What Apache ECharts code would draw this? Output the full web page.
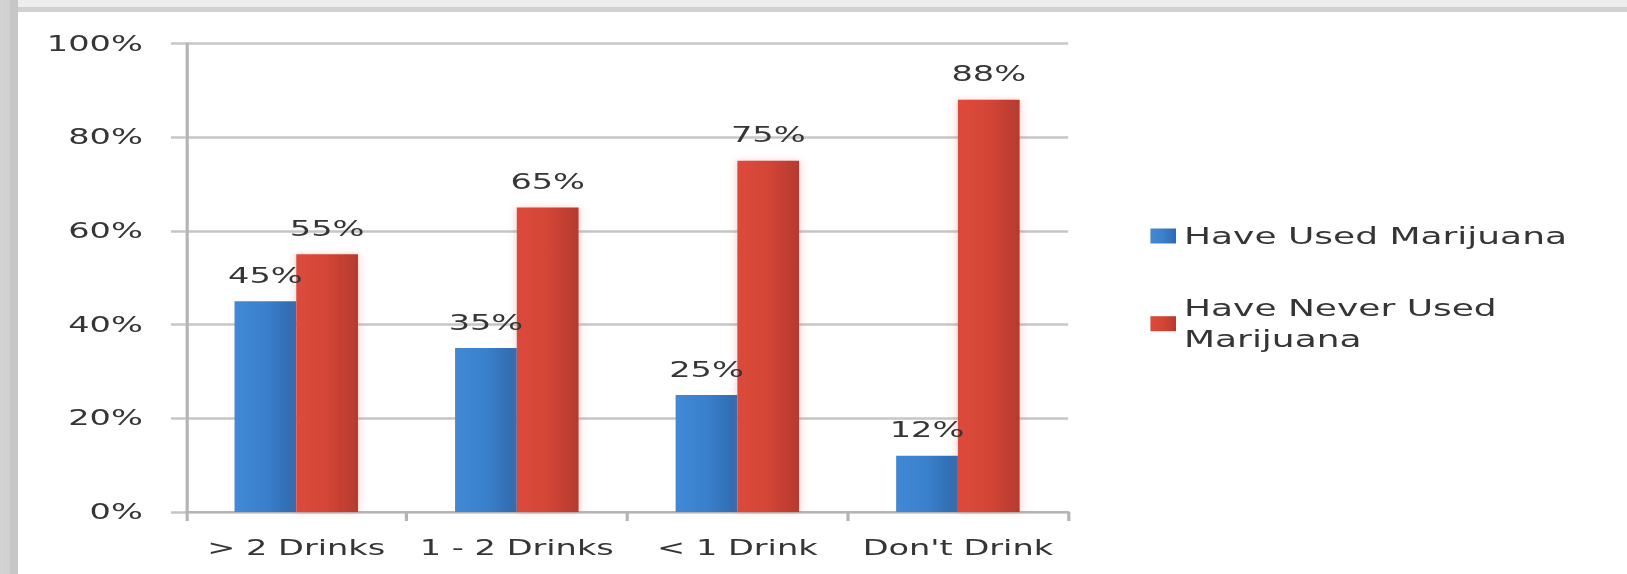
<!DOCTYPE html>
<html><head><meta charset="utf-8">
<script src="https://cdn.jsdelivr.net/npm/echarts@6/dist/echarts.min.js"></script>
<style>
html,body{margin:0;padding:0;width:1627px;height:574px;overflow:hidden;background:#e8e8e8;}
#topstrip{position:absolute;left:0;top:0;width:1627px;height:12px;background:linear-gradient(#eeeeee 0,#eeeeee 7px,#d0d0d0 7px,#d0d0d0 12px);}
#leftstrip{position:absolute;left:0;top:0;width:18px;height:574px;background:linear-gradient(90deg,#d4d4d4 0,#d0d0d0 10px,#c6c6c6 10px,#c6c6c6 18px);}
#panel{position:absolute;left:18px;top:12px;right:0;bottom:0;background:#ffffff;}
#chart{position:absolute;left:0;top:0;width:1016.875px;height:574px;transform:scaleX(1.6);transform-origin:0 0;}
</style>
</head><body>
<div id="topstrip"></div><div id="leftstrip"></div><div id="panel"></div>
<div id="chart"></div>
<script>
const categories = ['> 2 Drinks', '1 - 2 Drinks', '< 1 Drink', "Don't Drink"];
const usedValues = [45, 35, 25, 12];
const neverValues = [55, 65, 75, 88];
const seriesNames = ['Have Used Marijuana', 'Have Never Used Marijuana'];
const yMin = 0, yMax = 100, yStep = 20;

const FONT = 'DejaVu Sans';
const TXT = '#353535';
const blueGrad = new echarts.graphic.LinearGradient(0, 0, 1, 0, [
  {offset: 0, color: '#4189d6'}, {offset: 0.5, color: '#3a80cc'}, {offset: 1, color: '#2f69ae'}]);
const redGrad = new echarts.graphic.LinearGradient(0, 0, 1, 0, [
  {offset: 0, color: '#dc4a3b'}, {offset: 0.5, color: '#d44536'}, {offset: 1, color: '#b43a2f'}]);

const chart = echarts.init(document.getElementById('chart'), null, {renderer: 'svg'});
const labelCfg = {show: true, position: 'top', distance: 15, formatter: '{c}%',
  fontFamily: FONT, fontSize: 21, color: TXT};
chart.setOption({
  animation: false,
  backgroundColor: 'transparent',
  grid: {left: 116.25, right: 349.4, top: 43.5, bottom: 62, outerBoundsMode: 'none'},
  legend: [
    {data: [seriesNames[0]], orient: 'vertical', left: 719, top: 220.5, padding: 0,
     itemWidth: 16, itemHeight: 15, icon: 'rect',
     textStyle: {fontFamily: FONT, fontSize: 22.5, lineHeight: 31, color: TXT}},
    {data: [seriesNames[1]], orient: 'vertical', left: 719, top: 277.2, padding: 0,
     itemWidth: 16, itemHeight: 15, icon: 'rect',
     formatter: n => n.replace('Used Marijuana', 'Used\nMarijuana'),
     textStyle: {fontFamily: FONT, fontSize: 22.5, lineHeight: 31, color: TXT, padding: [31, 0, 0, 0]}}
  ],
  xAxis: {
    type: 'category', data: categories,
    axisLine: {show: true, lineStyle: {color: '#b4b4b4', width: 2}},
    axisTick: {show: true, interval: 0, length: 9, lineStyle: {color: '#b4b4b4', width: 2}},
    axisLabel: {interval: 0, margin: 25, fontFamily: FONT, fontSize: 21, color: TXT}
  },
  yAxis: {
    type: 'value', min: yMin, max: yMax, interval: yStep,
    axisLine: {show: true, lineStyle: {color: '#b4b4b4', width: 2}},
    axisTick: {show: true, length: 9.4, lineStyle: {color: '#c6c6c6', width: 2.5}},
    splitLine: {show: true, lineStyle: {color: '#c6c6c6', width: 2.5}},
    axisLabel: {margin: 27, formatter: '{value}%', fontFamily: FONT, fontSize: 21, color: TXT}
  },
  series: [
    {name: seriesNames[0], type: 'bar', data: usedValues, barGap: '0%', barCategoryGap: '44%',
     itemStyle: {color: blueGrad}, label: labelCfg},
    {name: seriesNames[1], type: 'bar', data: neverValues, barGap: '0%', barCategoryGap: '44%',
     itemStyle: {color: redGrad, shadowColor: 'rgba(230,90,70,0.35)', shadowBlur: 5}, label: labelCfg}
  ]
});
</script>
</body></html>
